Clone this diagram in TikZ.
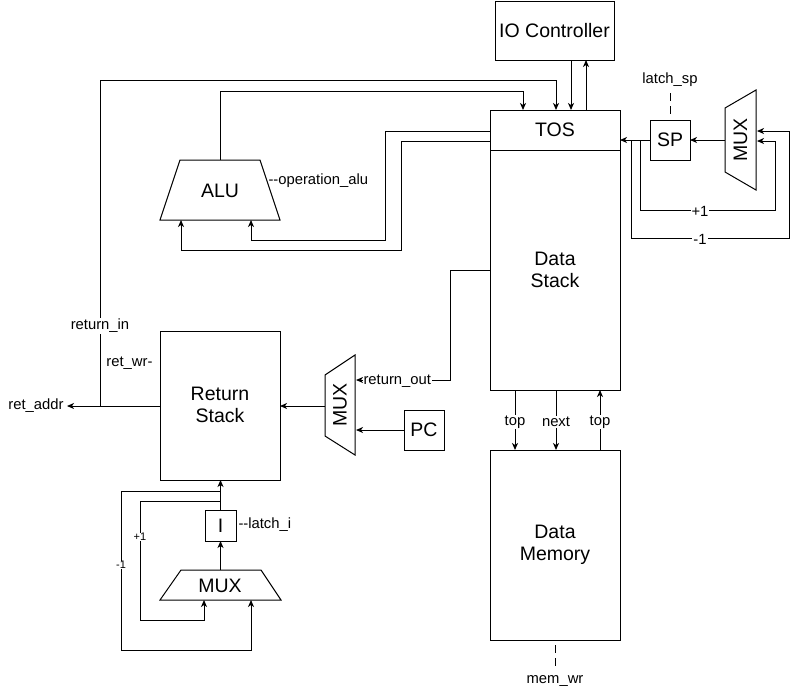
\documentclass[tikz,border=0pt]{standalone}
\usepackage{fontspec}
\setmainfont{Liberation Sans}
\usetikzlibrary{arrows.meta}
\begin{document}
\begin{tikzpicture}[x=1pt,y=-1pt,
  line width=1pt,
  box/.style={draw,line width=1pt},
  big/.style={font=\fontsize{19.5}{22.5}\selectfont,align=center,inner sep=0pt},
  small/.style={font=\fontsize{14.8}{17}\selectfont,inner sep=1pt},
  lbl/.style={small,fill=white},
  arr/.style={-{Stealth[length=7pt,width=6pt,inset=2pt]}},
  sig/.style={line width=1pt,dash pattern=on 8pt off 5pt}
]
\useasboundingbox (0,0) rectangle (799,689);

% IO controller
\draw[box] (495,1) rectangle (614,60);
\node[big] (io) at (554.5,30.5) {IO Controller};

% Data stack
\draw[box] (490,110) rectangle (620,390);
\draw (490,150) -- (620,150);
\node[big] (tos) at (555,130) {TOS};
\node[big] (ds) at (555,270) {Data\\Stack};

% Data memory
\draw[box] (490,450) rectangle (620,640);
\node[big] (dm) at (555,545) {Data\\Memory};

% SP
\draw[box] (650,120) rectangle (690,160);
\node[big] (sp) at (670,140) {SP};
\node[small] (latchsp) at (670,80) {latch\_sp};
\draw[sig] (670,93) -- (670,118);

% right MUX
\draw[box] (725,108) -- (756,90) -- (756,190) -- (725,172) -- cycle;
\node[big,rotate=90] (muxr) at (740.5,140) {MUX};

% ALU
\draw[box] (180,160) -- (260,160) -- (280,220) -- (160,220) -- cycle;
\node[big] (alu) at (220,191) {ALU};
\node[small,anchor=west] (opalu) at (267,181) {-{}-operation\_alu};

% Return stack
\draw[box] (160,331) rectangle (280,480);
\node[big] (rs) at (220,405) {Return\\Stack};
\node[small,anchor=east] (retwr) at (154,363) {ret\_wr-};
\node[small,anchor=east] (retaddr) at (65,406) {ret\_addr};

% return MUX
\draw[box] (325,375) -- (355,355) -- (355,455) -- (325,436) -- cycle;
\node[big,rotate=90] (muxs) at (340,405) {MUX};

% PC
\draw[box] (404,410) rectangle (444,450);
\node[big] (pc) at (424,430) {PC};

% I register
\draw[box] (205,510) rectangle (236,541);
\node[big] (ireg) at (220.5,525.5) {I};
\node[small,anchor=west] (latchi) at (237,525) {-{}-latch\_i};

% bottom MUX
\draw[box] (181,570) -- (261,570) -- (281,600) -- (160,600) -- cycle;
\node[big] (muxb) at (220,585.5) {MUX};

% connections: IO
\draw[arr] (571,60) -- (571,110);
\draw[arr] (586,110) -- (586,60);

% return_in
\draw[arr] (160,406) -- (67,406);
\draw[arr] (100,406) -- (100,80) -- (556,80) -- (556,110);
\node[lbl] (retin) at (100,326) {return\_in};

% ALU output
\draw[arr] (220,160) -- (220,91) -- (523,91) -- (523,110);
% TOS -> ALU inputs
\draw[arr] (490,131) -- (385,131) -- (385,240) -- (251,240) -- (251,220);
\draw[arr] (490,141) -- (401,141) -- (401,250) -- (181,250) -- (181,220);

% SP connections
\draw[arr] (650,140) -- (620,140);
\draw[arr] (725,140) -- (690,140);
\draw[arr] (640,140) -- (640,210) -- (775,210) -- (775,141) -- (757,141);
\draw[arr] (631,140) -- (631,238) -- (789,238) -- (789,131) -- (757,131);
\node[lbl] (p1) at (700,211) {+1};
\node[lbl] (m1) at (700,239) {-1};

% return_out
\draw[arr] (490,270) -- (450,270) -- (450,380) -- (356,380);
\node[lbl,anchor=west] (retout) at (362,381) {return\_out};
\draw[arr] (404,430) -- (356,430);
\draw[arr] (325,406) -- (280,406);

% I and bottom MUX
\draw[arr] (220.5,510) -- (220.5,480);
\draw[arr] (220.5,570) -- (220.5,541);
\draw[arr] (220.5,501) -- (140,501) -- (140,620) -- (204,620) -- (204,600);
\draw[arr] (220.5,491) -- (121,491) -- (121,650) -- (251,650) -- (251,600);
\node[small,fill=white,inner sep=0.5pt,font=\fontsize{11}{13}\selectfont] (ip1) at (140,537) {+1};
\node[small,fill=white,inner sep=0.5pt,font=\fontsize{11}{13}\selectfont] (im1) at (121,565) {-1};

% Data stack <-> memory
\draw[arr] (515,390) -- (515,450);
\draw[arr] (556,390) -- (556,450);
\draw[arr] (600,450) -- (600,390);
\node[lbl] (t1) at (515,422) {top};
\node[lbl] (nx) at (556,422) {next};
\node[lbl] (t2) at (600,422) {top};

% mem_wr
\draw[sig] (555,645) -- (555,670);
\node[small] (memwr) at (555,681) {mem\_wr};
\end{tikzpicture}
\end{document}
